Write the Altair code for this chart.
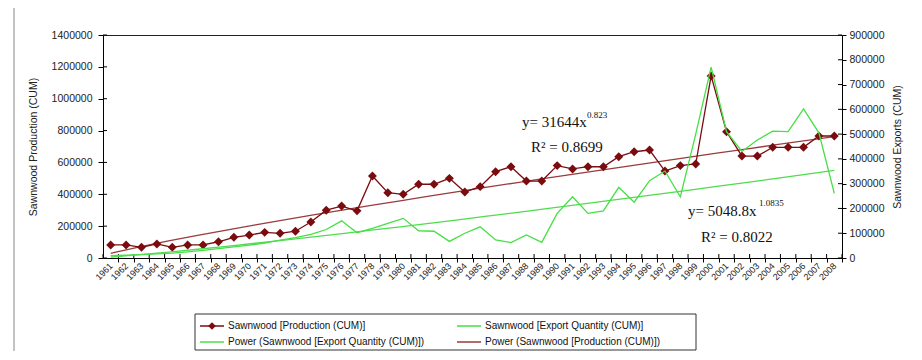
import altair as alt
import pandas as pd

# ---------------- data ----------------
years = [1961, 1962, 1963, 1964, 1965, 1966, 1967, 1968, 1969, 1970,
         1971, 1972, 1973, 1974, 1975, 1976, 1977, 1978, 1979, 1980,
         1981, 1982, 1983, 1984, 1985, 1986, 1987, 1988, 1989, 1990,
         1991, 1992, 1993, 1994, 1995, 1996, 1997, 1998, 1999, 2000,
         2001, 2002, 2003, 2004, 2005, 2006, 2007, 2008]

production = [82000, 82000, 67000, 88000, 67000, 82000, 82000, 102000, 130000, 144000,
              161000, 155000, 168000, 226000, 300000, 326000, 296000, 515000, 410000, 400000,
              463000, 463000, 500000, 414000, 448000, 542000, 573000, 483000, 483000, 580000,
              559000, 573000, 573000, 636000, 667000, 678000, 546000, 580000, 590000, 1143000,
              793000, 640000, 640000, 695000, 695000, 695000, 766000, 766000]

exports = [9000, 11000, 14000, 17000, 20000, 25000, 31000, 38000, 45000, 52000,
           60000, 72000, 82000, 95000, 115000, 150000, 102000, 120000, 140000, 160000,
           110000, 108000, 67000, 100000, 126000, 73000, 62000, 93000, 63000, 180000,
           247000, 180000, 190000, 285000, 225000, 312000, 351000, 247000, 500000, 770000,
           510000, 430000, 476000, 512000, 510000, 602000, 505000, 261000]

left_ticks = [0, 200000, 400000, 600000, 800000, 1000000, 1200000, 1400000]
right_ticks = [0, 100000, 200000, 300000, 400000, 500000, 600000, 700000, 800000, 900000]

S_PROD = "Sawnwood [Production (CUM)]"
S_EXP = "Sawnwood [Export Quantity (CUM)]"
S_PEXP = "Power (Sawnwood [Export Quantity (CUM)])"
S_PPROD = "Power (Sawnwood [Production (CUM)])"
legend_order = [S_PROD, S_EXP, S_PEXP, S_PPROD]

eq_prod = "y= 31644x"
eq_prod_exp = "0.823"
r2_prod = "R² = 0.8699"
eq_exp = "y= 5048.8x"
eq_exp_exp = "1.0835"
r2_exp = "R² = 0.8022"

# ---------------- styling ----------------
C_PROD = "#7a0c10"
C_PTREND = "#9a3b3d"
C_EXP = "#44e044"
C_ETREND = "#4fdc4f"
colors = {S_PROD: C_PROD, S_EXP: C_EXP, S_PEXP: C_ETREND, S_PPROD: C_PTREND}
FONT = "Liberation Sans"
SERIF = "Liberation Serif"

idx = list(range(1, len(years) + 1))
bounds = [i + 0.5 for i in range(len(years) + 1)]
prod_df = pd.DataFrame({"idx": idx, "value": production, "series": S_PROD})
exp_df = pd.DataFrame({"idx": idx, "value": exports, "series": S_EXP})

W, H = 739, 223
step = W / len(years)

x_enc = alt.X(
    "idx:Q",
    scale=alt.Scale(domain=[0.5, len(years) + 0.5], nice=False, zero=False),
    axis=alt.Axis(
        values=idx, title=None, grid=False,
        labelExpr=f"{years}[datum.value - 1]",
        labelAngle=-45, labelAlign="right", labelBaseline="middle",
        labelFontSize=9, labelFont=FONT, labelColor="#222",
        labelOverlap=False, labelPadding=2,
        tickOffset=step / 2, labelOffset=-step / 2,
        tickSize=4, tickColor="#000", domainColor="#000",
    ),
)

left_y = alt.Y(
    "value:Q",
    scale=alt.Scale(domain=[0, 1400000], nice=False),
    axis=alt.Axis(
        orient="left", values=left_ticks, format="d", grid=False,
        title="Sawnwood Production (CUM)", titleFont=FONT, titleFontSize=10.5,
        titleFontWeight="normal", titleColor="#222", titleX=-70, titleY=H / 2,
        titleAlign="center", titleBaseline="middle", titleAngle=270,
        labelFont=FONT, labelFontSize=10.5, labelColor="#222", labelPadding=6,
        tickSize=5, tickColor="#000", domainColor="#000",
    ),
)

right_y = alt.Y(
    "value:Q",
    scale=alt.Scale(domain=[0, 900000], nice=False),
    axis=alt.Axis(
        orient="right", values=right_ticks, format="d", grid=False,
        title="Sawnwood Exports (CUM)", titleFont=FONT, titleFontSize=10.5,
        titleFontWeight="normal", titleColor="#222", titleX=55, titleY=H / 2,
        titleAlign="center", titleBaseline="middle", titleAngle=270,
        labelFont=FONT, labelFontSize=10.5, labelColor="#222", labelPadding=3,
        tickSize=4, tickColor="#000", domainColor="#000",
    ),
)

color_enc = alt.Color(
    "series:N",
    scale=alt.Scale(domain=legend_order, range=[colors[s] for s in legend_order]),
    legend=None,
)

prod_trend = (
    alt.Chart(prod_df)
    .transform_regression("idx", "value", method="pow")
    .transform_calculate(series=f"'{S_PPROD}'")
    .mark_line(strokeWidth=1.3)
    .encode(x=x_enc, y=left_y, color=color_enc)
)
prod_line = alt.Chart(prod_df).mark_line(strokeWidth=1.3).encode(x=x_enc, y=left_y, color=color_enc)
prod_pts = alt.Chart(prod_df).mark_point(
    shape="diamond", filled=True, size=80, color=C_PROD, opacity=1
).encode(x=x_enc, y=left_y)

# inner halves of Excel's "cross" tick marks
left_inner = alt.Chart(pd.DataFrame({"value": left_ticks})).mark_rule(color="#000").encode(
    y=left_y, x=alt.value(0), x2=alt.value(4))
bottom_inner = alt.Chart(pd.DataFrame({"idx": bounds})).mark_rule(color="#000").encode(
    x=x_enc, y=alt.value(H - 4), y2=alt.value(H))
right_inner = alt.Chart(pd.DataFrame({"value": right_ticks})).mark_rule(color="#000").encode(
    y=right_y, x=alt.value(W - 4), x2=alt.value(W))

exp_trend = (
    alt.Chart(exp_df)
    .transform_regression("idx", "value", method="pow")
    .transform_calculate(series=f"'{S_PEXP}'")
    .mark_line(strokeWidth=1.3)
    .encode(x=x_enc, y=right_y, color=color_enc)
)
exp_line = alt.Chart(exp_df).mark_line(strokeWidth=1.3).encode(x=x_enc, y=right_y, color=color_enc)

left = alt.layer(left_inner, bottom_inner, prod_trend, prod_line, prod_pts)
right = alt.layer(right_inner, exp_line, exp_trend)


def one(df_text=""):
    return alt.Chart(pd.DataFrame({"t": [df_text]}))


def label(text, px, py, size=15, align="left", font=SERIF, color="#111"):
    return one(text).mark_text(
        align=align, baseline="middle", font=font, fontSize=size, fill=color
    ).encode(text="t:N", x=alt.value(px), y=alt.value(py))


notes = alt.layer(
    label(eq_prod, 419, 87),
    label(eq_prod_exp, 484, 80, size=9),
    label(r2_prod, 428, 112),
    label(eq_exp, 585, 176),
    label(eq_exp_exp, 656, 168, size=9),
    label(r2_exp, 598, 202),
)

# ---------------- legend (Excel style box, 2 columns) ----------------
LX0, LX1, LY0, LY1 = 92, 593, 279, 315
col_x = [97, 354]
row_y = [291, 307]
sym_w = 24
legend_layers = [
    one().mark_rect(fill="white", stroke="#333", strokeWidth=1).encode(
        x=alt.value(LX0), x2=alt.value(LX1), y=alt.value(LY0), y2=alt.value(LY1))
]
for k, name in enumerate(legend_order):
    cx, ry = col_x[k % 2], row_y[k // 2]
    legend_layers.append(
        one().mark_rule(color=colors[name], strokeWidth=1.5).encode(
            x=alt.value(cx), x2=alt.value(cx + sym_w), y=alt.value(ry))
    )
    if name == S_PROD:
        legend_layers.append(
            one().mark_point(shape="diamond", filled=True, size=60, color=C_PROD, opacity=1).encode(
                x=alt.value(cx + sym_w / 2), y=alt.value(ry))
        )
    legend_layers.append(label(name, cx + sym_w + 4, ry, size=10, font=FONT))
legend_layer = alt.layer(*legend_layers)

frame_l = one().mark_rule(color="#888", strokeWidth=1).encode(
    x=alt.value(-89), y=alt.value(-40), y2=alt.value(330))
frame_r = one().mark_rule(color="#888", strokeWidth=1).encode(
    x=alt.value(810), y=alt.value(-40), y2=alt.value(330))

chart = (
    alt.layer(left, right, notes, legend_layer, frame_l, frame_r)
    .resolve_scale(y="independent")
    .properties(
        width=W, height=H,
        autosize=alt.AutoSizeParams(type="none"),
        padding={"left": 95, "top": 27, "right": 70, "bottom": 93},
        background="white",
    )
    .configure_view(stroke="#222", strokeWidth=1)
)

chart.save("out.html", embed_options={"renderer": "svg", "actions": False})
